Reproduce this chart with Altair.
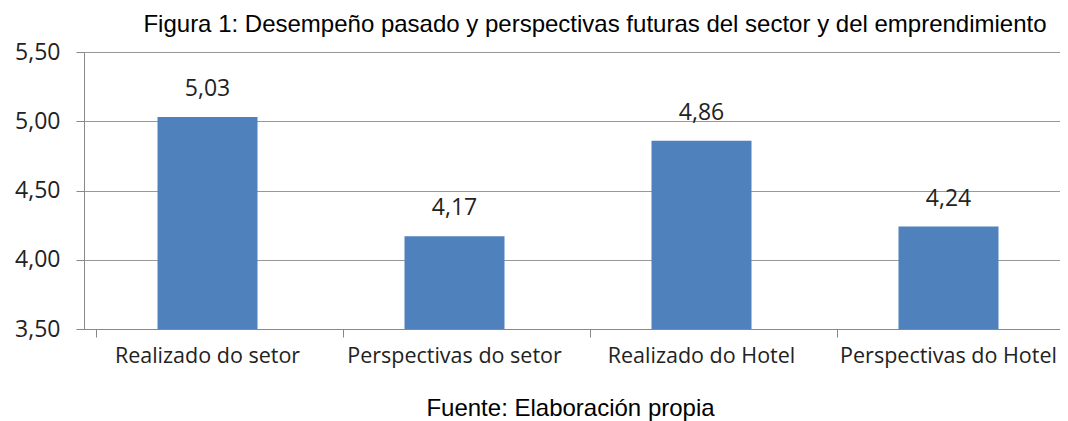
import altair as alt
import pandas as pd

categories = ["Realizado do setor", "Perspectivas do setor", "Realizado do Hotel", "Perspectivas do Hotel"]
values = [5.03, 4.17, 4.86, 4.24]
y_ticks = [3.5, 4.0, 4.5, 5.0, 5.5]

df = pd.DataFrame({"cat": categories, "val": values})

LBL_FONT = "Open Sans"

xscale = alt.Scale(range=[0, 988])
yscale = alt.Scale(domain=[3.5, 5.5], nice=False, zero=False)

x = alt.X(
    "cat:N",
    sort=categories,
    scale=xscale,
    axis=alt.Axis(
        title="Fuente: Elaboración propia",
        titleFont="Liberation Sans",
        titleFontSize=24,
        titleFontWeight="normal",
        titleColor="#000000",
        titlePadding=30,
        titleX=486,
        labelFont=LBL_FONT,
        labelFontSize=21.5,
        labelColor="#222222",
        labelPadding=8,
        labelAngle=0,
        labelLimit=0,
        bandPosition=0,
        tickSize=8,
        tickColor="#888888",
        domainColor="#888888",
        grid=False,
    ),
)

y = alt.Y(
    "val:Q",
    scale=yscale,
    axis=alt.Axis(
        title=None,
        values=y_ticks,
        labelExpr="replace(format(datum.value, '.2f'), '.', ',')",
        labelFont=LBL_FONT,
        labelFontSize=23,
        labelColor="#222222",
        labelPadding=16,
        tickSize=8,
        tickColor="#888888",
        domainColor="#888888",
        gridColor="#999999",
        grid=True,
    ),
)

bars = alt.Chart(df).mark_bar(size=100, color="#4F81BD", clip=True).encode(x=x, y=y)

labels = (
    alt.Chart(df)
    .transform_calculate(lbl="replace(format(datum.val, '.2f'), '.', ',')")
    .mark_text(font=LBL_FONT, fontSize=23, color="#222222", dy=-28)
    .encode(x=alt.X("cat:N", sort=categories), y=alt.Y("val:Q"), text="lbl:N")
)

chart = (
    alt.layer(bars, labels)
    .properties(
        width=976,
        height=277,
        autosize=alt.AutoSizeParams(type="none"),
        padding={"left": 76, "top": 44, "right": 0, "bottom": 92},
        title=alt.TitleParams(
            "Figura 1: Desempeño pasado y perspectivas futuras del sector y del emprendimiento",
            font="Liberation Sans",
            fontSize=24,
            fontWeight="normal",
            color="#000000",
            anchor="middle",
            dx=23,
            offset=4,
        ),
    )
    .configure_view(stroke=None)
    .configure(background="white")
)

chart.save("out.html", embed_options={"renderer": "svg", "actions": False})
